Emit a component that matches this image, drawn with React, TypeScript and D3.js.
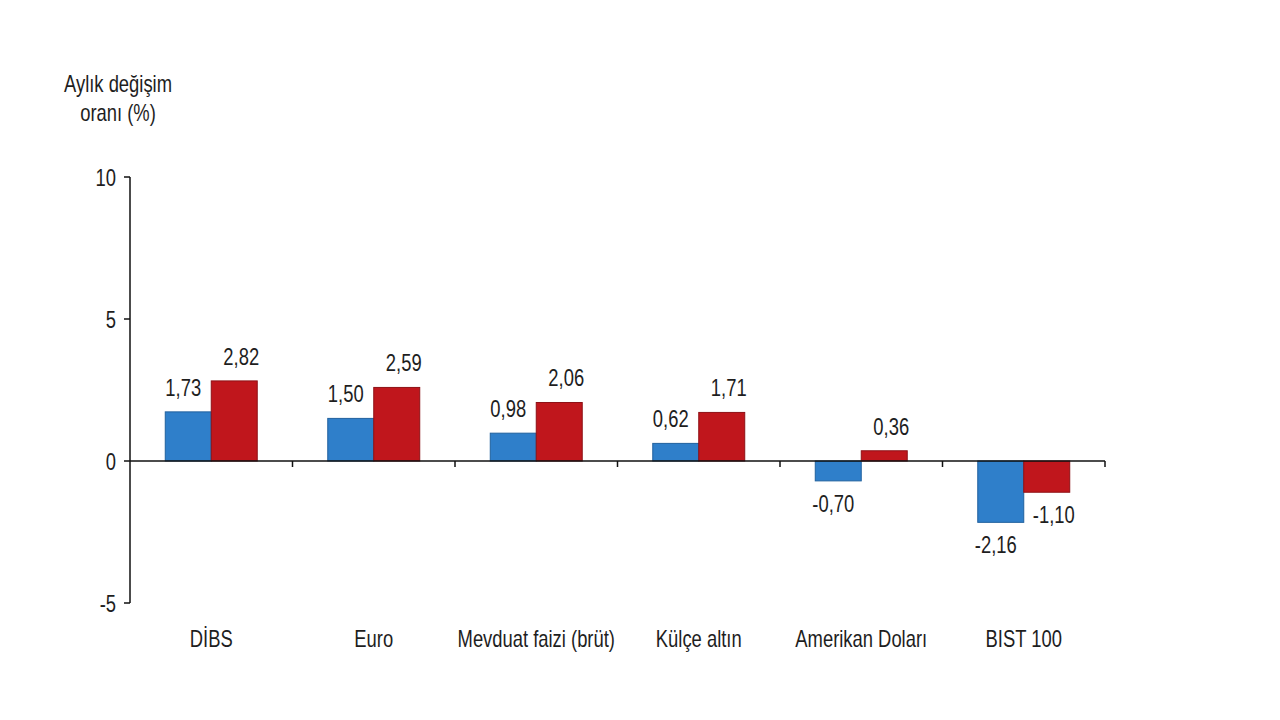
import { useMemo } from "react";
import * as d3 from "d3";

const categories = ["DİBS", "Euro", "Mevduat faizi (brüt)", "Külçe altın", "Amerikan Doları", "BIST 100"];
const series = ["a", "b"];
const valuesA = [1.73, 1.5, 0.98, 0.62, -0.7, -2.16];
const valuesB = [2.82, 2.59, 2.06, 1.71, 0.36, -1.1];
const yTicks = [-5, 0, 5, 10];

const colors = ["#2f7fca", "#c0161c"];
const strokes = ["#21619e", "#8e1116"];
const labelShift = [-5, 7];
const FONT = "'Liberation Sans', Arial, sans-serif";
const FS = 23;
const SX = 0.8;

const fmt = (v: number) => v.toFixed(2).replace(".", ",");

// condensed look of the original: big font squeezed horizontally
const Label = ({ x, y, anchor = "middle", children }: { x: number; y: number; anchor?: string; children: any }) => (
  <text
    transform={`translate(${x},${y}) scale(${SX},1)`}
    fontSize={FS}
    textAnchor={anchor}
    fill="#1e1e1e"
  >
    {children}
  </text>
);

export default function App() {
  const width = 1280;
  const height = 720;

  const x0 = useMemo(
    () => d3.scaleBand<string>().domain(categories).range([130, 1105]).paddingInner(0.434).paddingOuter(0.217),
    []
  );
  const x1 = useMemo(
    () => d3.scaleBand<string>().domain(series).range([0, x0.bandwidth()]).padding(0),
    [x0]
  );
  const y = useMemo(() => d3.scaleLinear().domain([-5, 10]).range([603, 177]), []);

  const rows = categories.map((c, i) => ({ c, vals: [valuesA[i], valuesB[i]] }));
  const step = x0.step();

  return (
    <svg
      width={width}
      height={height}
      style={{ position: "absolute", left: 0, top: 0, background: "#fff" }}
      fontFamily={FONT}
    >
      {/* y axis title */}
      <Label x={118} y={92}>Aylık değişim</Label>
      <Label x={118} y={121}>oranı (%)</Label>

      {/* y axis */}
      <line x1={130} x2={130} y1={y(10)} y2={y(-5)} stroke="#111" strokeWidth={1.5} />
      {yTicks.map((t) => (
        <g key={t}>
          <line x1={124} x2={130} y1={y(t)} y2={y(t)} stroke="#111" strokeWidth={1.5} />
          <Label x={116} y={y(t) + 9} anchor="end">{t}</Label>
        </g>
      ))}

      {/* bars */}
      {rows.map((r) => (
        <g key={r.c} transform={`translate(${x0(r.c)},0)`}>
          {r.vals.map((v, j) => {
            const bx = x1(series[j])!;
            const top = y(Math.max(0, v));
            const h = Math.abs(y(v) - y(0));
            return (
              <g key={j}>
                <rect
                  x={bx}
                  y={top}
                  width={x1.bandwidth()}
                  height={h}
                  fill={colors[j]}
                  stroke={strokes[j]}
                  strokeWidth={1}
                />
                <Label
                  x={bx + x1.bandwidth() / 2 + labelShift[j]}
                  y={v >= 0 ? y(v) - 16 : y(v) + 31}
                >
                  {fmt(v)}
                </Label>
              </g>
            );
          })}
        </g>
      ))}

      {/* zero line + category ticks */}
      <line x1={130} x2={1105} y1={y(0)} y2={y(0)} stroke="#111" strokeWidth={1.5} />
      {categories.map((c, i) => (
        <line
          key={c}
          x1={130 + step * (i + 1)}
          x2={130 + step * (i + 1)}
          y1={y(0)}
          y2={y(0) + 6}
          stroke="#111"
          strokeWidth={1.5}
        />
      ))}

      {/* category labels */}
      {categories.map((c) => (
        <Label key={c} x={x0(c)! + x0.bandwidth() / 2} y={647}>
          {c}
        </Label>
      ))}
    </svg>
  );
}
